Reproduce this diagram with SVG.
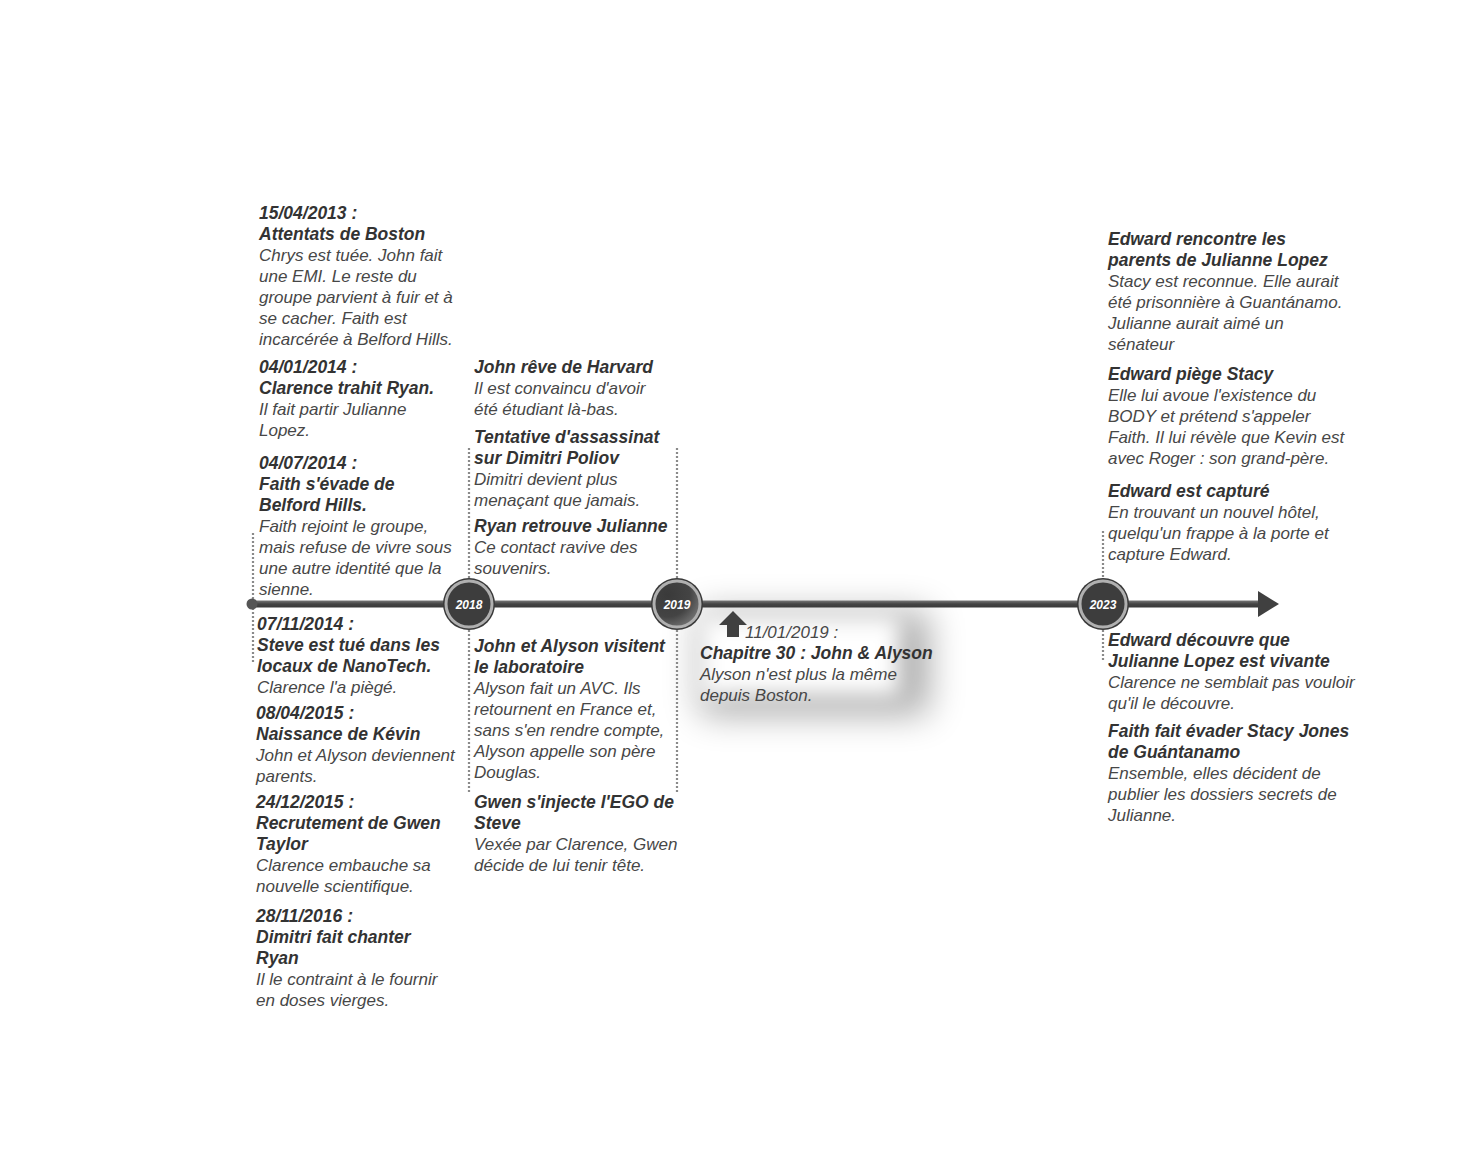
<svg xmlns="http://www.w3.org/2000/svg" width="1476" height="1170" viewBox="0 0 1476 1170">
<style>
text{font-family:"Liberation Sans",Arial,sans-serif;font-size:17px;font-style:italic;fill:#474747}
.b{font-weight:bold;fill:#333;font-size:17.5px}
.yr{font-size:12px;font-weight:bold;fill:#fff;text-anchor:middle}
.dot{stroke:#8a8a8a;stroke-width:2.2;stroke-dasharray:2 2;fill:none}
</style>
<defs>
<filter id="bl1" x="-60%" y="-80%" width="220%" height="260%"><feGaussianBlur stdDeviation="18"/></filter>
<filter id="bl2" x="-40%" y="-50%" width="180%" height="200%"><feGaussianBlur stdDeviation="11"/></filter>
<linearGradient id="ln" x1="0" y1="0" x2="0" y2="1">
<stop offset="0" stop-color="#777"/><stop offset="0.5" stop-color="#444"/><stop offset="1" stop-color="#3a3a3a"/>
</linearGradient>
<radialGradient id="c19" cx="0.3" cy="0.3" r="0.8">
<stop offset="0" stop-color="#3a3a3a"/><stop offset="0.6" stop-color="#444"/><stop offset="1" stop-color="#777"/>
</radialGradient>
</defs>
<rect width="1476" height="1170" fill="#fff"/>

<g id="callout-2019">
<rect x="700" y="612" width="228" height="102" fill="#000" opacity="0.34" filter="url(#bl1)"/>
<rect x="700" y="616" width="200" height="80" fill="#fff" filter="url(#bl2)"/>
<polygon points="733,611 719,625 727,625 727,637 739,637 739,625 747,625" fill="#404040"/>
<text x="745" y="638" style="font-weight:normal">11/01/2019 :</text>
<text class="b" x="700" y="659">Chapitre 30 : John &amp; Alyson</text>
<text x="700" y="680">Alyson n'est plus la même</text>
<text x="700" y="701">depuis Boston.</text>
</g>

<g id="connectors">
<path class="dot" d="M253 533V600M253 608V662"/>
<path class="dot" d="M469 448V578M469 630V792"/>
<path class="dot" d="M677 448V578M677 630V792"/>
<path class="dot" d="M1103 531V578M1103 630V662"/>
<rect x="252" y="600.5" width="1010" height="7" fill="url(#ln)"/>
<polygon points="1258,591 1279,604 1258,617" fill="#404040"/>
<circle cx="252" cy="604" r="5.5" fill="#555"/>
</g>

<g id="y2018">
<circle cx="469" cy="604" r="26" fill="#3a3a3a"/>
<circle cx="469" cy="604" r="23" fill="#3d3d3d" stroke="#b0b0b0" stroke-width="3"/>
<text class="yr" x="469" y="609">2018</text>
</g>
<g id="y2019">
<circle cx="677" cy="604" r="26" fill="#3a3a3a"/>
<circle cx="677" cy="604" r="23" fill="url(#c19)" stroke="#b0b0b0" stroke-width="3"/>
<text class="yr" x="677" y="609">2019</text>
</g>
<g id="y2023">
<circle cx="1103" cy="604" r="26" fill="#3a3a3a"/>
<circle cx="1103" cy="604" r="23" fill="#3d3d3d" stroke="#b0b0b0" stroke-width="3"/>
<text class="yr" x="1103" y="609">2023</text>
</g>

<g id="e2013">
<text class="b" x="259" y="219">15/04/2013 :</text>
<text class="b" x="259" y="240">Attentats de Boston</text>
<text x="259" y="261">Chrys est tuée. John fait</text>
<text x="259" y="282">une EMI. Le reste du</text>
<text x="259" y="303">groupe parvient à fuir et à</text>
<text x="259" y="324">se cacher. Faith est</text>
<text x="259" y="345">incarcérée à Belford Hills.</text>
</g>
<g id="e2014a">
<text class="b" x="259" y="373">04/01/2014 :</text>
<text class="b" x="259" y="394">Clarence trahit Ryan.</text>
<text x="259" y="415">Il fait partir Julianne</text>
<text x="259" y="436">Lopez.</text>
</g>
<g id="e2014b">
<text class="b" x="259" y="469">04/07/2014 :</text>
<text class="b" x="259" y="490">Faith s'évade de</text>
<text class="b" x="259" y="511">Belford Hills.</text>
<text x="259" y="532">Faith rejoint le groupe,</text>
<text x="259" y="553">mais refuse de vivre sous</text>
<text x="259" y="574">une autre identité que la</text>
<text x="259" y="595">sienne.</text>
</g>
<g id="e2014c">
<text class="b" x="257" y="630">07/11/2014 :</text>
<text class="b" x="257" y="651">Steve est tué dans les</text>
<text class="b" x="257" y="672">locaux de NanoTech.</text>
<text x="257" y="693">Clarence l'a piègé.</text>
</g>
<g id="e2015a">
<text class="b" x="256" y="719">08/04/2015 :</text>
<text class="b" x="256" y="740">Naissance de Kévin</text>
<text x="256" y="761">John et Alyson deviennent</text>
<text x="256" y="782">parents.</text>
</g>
<g id="e2015b">
<text class="b" x="256" y="808">24/12/2015 :</text>
<text class="b" x="256" y="829">Recrutement de Gwen</text>
<text class="b" x="256" y="850">Taylor</text>
<text x="256" y="871">Clarence embauche sa</text>
<text x="256" y="892">nouvelle scientifique.</text>
</g>
<g id="e2016">
<text class="b" x="256" y="922">28/11/2016 :</text>
<text class="b" x="256" y="943">Dimitri fait chanter</text>
<text class="b" x="256" y="964">Ryan</text>
<text x="256" y="985">Il le contraint à le fournir</text>
<text x="256" y="1006">en doses vierges.</text>
</g>

<g id="m1">
<text class="b" x="474" y="373">John rêve de Harvard</text>
<text x="474" y="394">Il est convaincu d'avoir</text>
<text x="474" y="415">été étudiant là-bas.</text>
</g>
<g id="m2">
<text class="b" x="474" y="443">Tentative d'assassinat</text>
<text class="b" x="474" y="464">sur Dimitri Poliov</text>
<text x="474" y="485">Dimitri devient plus</text>
<text x="474" y="506">menaçant que jamais.</text>
</g>
<g id="m3">
<text class="b" x="474" y="532">Ryan retrouve Julianne</text>
<text x="474" y="553">Ce contact ravive des</text>
<text x="474" y="574">souvenirs.</text>
</g>
<g id="m4">
<text class="b" x="474" y="652">John et Alyson visitent</text>
<text class="b" x="474" y="673">le laboratoire</text>
<text x="474" y="694">Alyson fait un AVC. Ils</text>
<text x="474" y="715">retournent en France et,</text>
<text x="474" y="736">sans s'en rendre compte,</text>
<text x="474" y="757">Alyson appelle son père</text>
<text x="474" y="778">Douglas.</text>
</g>
<g id="m5">
<text class="b" x="474" y="808">Gwen s'injecte l'EGO de</text>
<text class="b" x="474" y="829">Steve</text>
<text x="474" y="850">Vexée par Clarence, Gwen</text>
<text x="474" y="871">décide de lui tenir tête.</text>
</g>

<g id="r1">
<text class="b" x="1108" y="245">Edward rencontre les</text>
<text class="b" x="1108" y="266">parents de Julianne Lopez</text>
<text x="1108" y="287">Stacy est reconnue. Elle aurait</text>
<text x="1108" y="308">été prisonnière à Guantánamo.</text>
<text x="1108" y="329">Julianne aurait aimé un</text>
<text x="1108" y="350">sénateur</text>
</g>
<g id="r2">
<text class="b" x="1108" y="380">Edward piège Stacy</text>
<text x="1108" y="401">Elle lui avoue l'existence du</text>
<text x="1108" y="422">BODY et prétend s'appeler</text>
<text x="1108" y="443">Faith. Il lui révèle que Kevin est</text>
<text x="1108" y="464">avec Roger : son grand-père.</text>
</g>
<g id="r3">
<text class="b" x="1108" y="497">Edward est capturé</text>
<text x="1108" y="518">En trouvant un nouvel hôtel,</text>
<text x="1108" y="539">quelqu'un frappe à la porte et</text>
<text x="1108" y="560">capture Edward.</text>
</g>
<g id="r4">
<text class="b" x="1108" y="646">Edward découvre que</text>
<text class="b" x="1108" y="667">Julianne Lopez est vivante</text>
<text x="1108" y="688">Clarence ne semblait pas vouloir</text>
<text x="1108" y="709">qu'il le découvre.</text>
</g>
<g id="r5">
<text class="b" x="1108" y="737">Faith fait évader Stacy Jones</text>
<text class="b" x="1108" y="758">de Guántanamo</text>
<text x="1108" y="779">Ensemble, elles décident de</text>
<text x="1108" y="800">publier les dossiers secrets de</text>
<text x="1108" y="821">Julianne.</text>
</g>
</svg>
